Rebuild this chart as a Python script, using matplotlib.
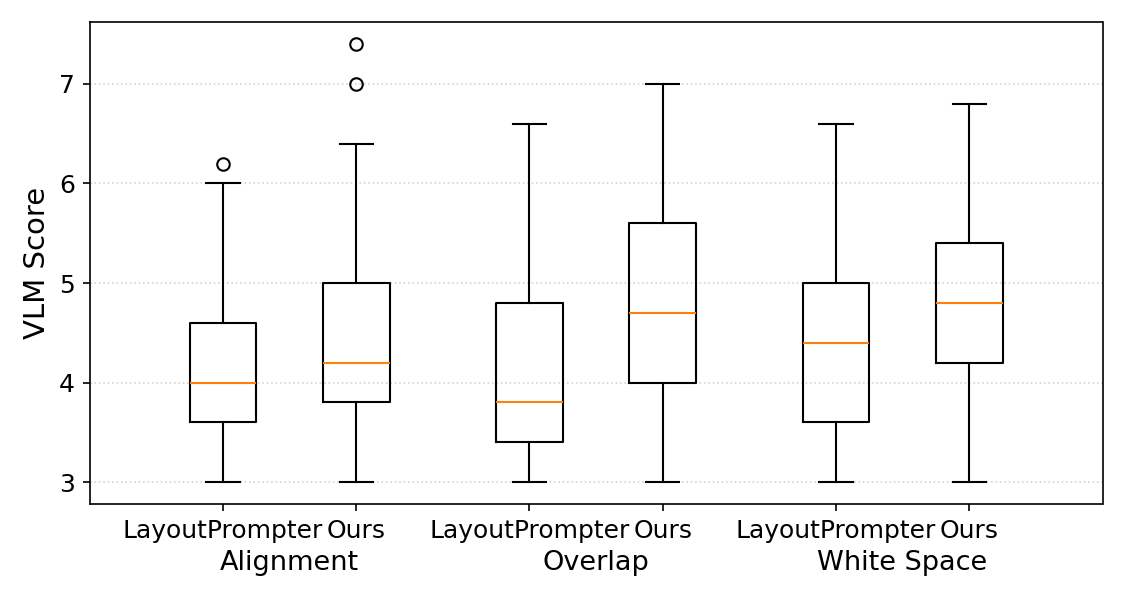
import matplotlib.pyplot as plt

groups = ['Alignment', 'Overlap', 'White Space']
methods = ['LayoutPrompter', 'Ours']

# one entry per box: LP/Ours for each group
whislo = [3.0, 3.0, 3.0, 3.0, 3.0, 3.0]
q1 = [3.6, 3.8, 3.4, 4.0, 3.6, 4.2]
med = [4.0, 4.2, 3.8, 4.7, 4.4, 4.8]
q3 = [4.6, 5.0, 4.8, 5.6, 5.0, 5.4]
whishi = [6.0, 6.4, 6.6, 7.0, 6.6, 6.8]
fliers = [[6.2], [7.0, 7.4], [], [], [], []]


def main():
    stats = []
    for i in range(len(med)):
        stats.append({'whislo': whislo[i], 'q1': q1[i], 'med': med[i],
                      'q3': q3[i], 'whishi': whishi[i], 'fliers': fliers[i]})

    positions = []
    for g in range(len(groups)):
        for m in range(len(methods)):
            positions.append(1 + g * 2.3 + m)

    fig = plt.figure(figsize=(7.5, 4), dpi=150)
    ax = fig.add_axes([0.0797, 0.16, 0.9003, 0.803])

    ax.bxp(stats, positions=positions, widths=0.5)
    ax.set_xticks(positions)
    ax.set_xticklabels(methods * len(groups), fontsize=12)
    ax.tick_params(axis='y', labelsize=12)
    ax.set_xlim(0, 7.6)
    ax.set_yticks([3, 4, 5, 6, 7])
    ax.set_ylabel('VLM Score', fontsize=14)
    ax.yaxis.grid(True, linestyle=':', color='lightgray', linewidth=0.8)
    ax.set_axisbelow(True)

    for g, name in enumerate(groups):
        center = (positions[2 * g] + positions[2 * g + 1]) / 2
        ax.text(center, -0.122, name, transform=ax.get_xaxis_transform(),
                ha='center', va='center', fontsize=13)

    fig.savefig('out.png', dpi=150)


if __name__ == "__main__":
    main()
